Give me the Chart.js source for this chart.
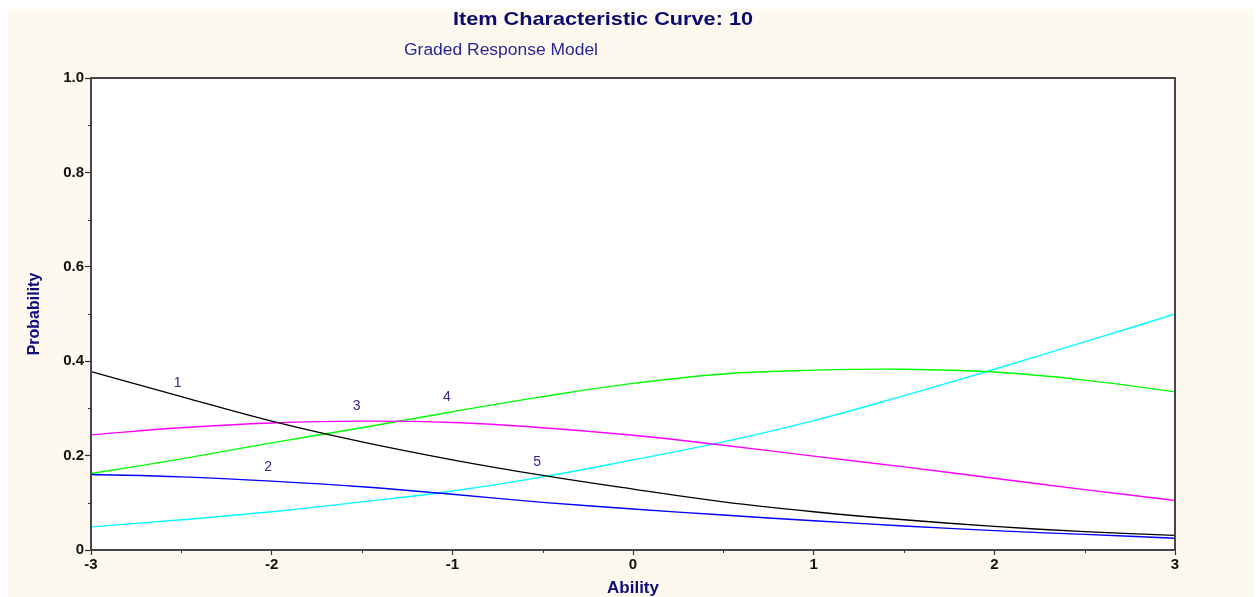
<!DOCTYPE html>
<html>
<head>
<meta charset="utf-8">
<title>Item Characteristic Curve: 10</title>
<script src="https://cdn.jsdelivr.net/npm/chart.js@4/dist/chart.umd.min.js"></script>
<style>
  html, body { margin: 0; padding: 0; background: #ffffff; }
  #wrap { width: 1256px; height: 597px; }
</style>
</head>
<body>
<div id="wrap"><canvas id="icc" width="1256" height="597"></canvas></div>
<script>
// Ability grid (theta) and category response probabilities
const abilities = [-3, -2.5, -2, -1.5, -1, -0.5, 0, 0.5, 1, 1.5, 2, 2.5, 3];
const cat1 = [0.378, 0.325, 0.273, 0.229, 0.191, 0.158, 0.129, 0.102, 0.081, 0.064, 0.050, 0.039, 0.031];
const cat2 = [0.160, 0.155, 0.146, 0.134, 0.118, 0.101, 0.087, 0.074, 0.062, 0.051, 0.041, 0.033, 0.025];
const cat3 = [0.244, 0.259, 0.269, 0.273, 0.270, 0.259, 0.243, 0.222, 0.199, 0.176, 0.152, 0.128, 0.105];
const cat4 = [0.162, 0.193, 0.227, 0.259, 0.293, 0.325, 0.353, 0.373, 0.381, 0.383, 0.377, 0.360, 0.335];
const cat5 = [0.049, 0.064, 0.081, 0.102, 0.125, 0.155, 0.191, 0.229, 0.274, 0.327, 0.383, 0.441, 0.500];
const categoryNames = ['1', '2', '3', '4', '5'];
const yTickValues = [0, 0.2, 0.4, 0.6, 0.8, 1.0];
const xTickValues = [-3, -2, -1, 0, 1, 2, 3];

// Where each category number is written (ability, probability)
const curveLabelAnchors = [
  { text: '1', x: -2.52, y: 0.354 },
  { text: '2', x: -2.02, y: 0.176 },
  { text: '3', x: -1.53, y: 0.305 },
  { text: '4', x: -1.03, y: 0.324 },
  { text: '5', x: -0.53, y: 0.186 }
];

const seriesColors = ['#000000', '#0000ff', '#ff00ff', '#00ff00', '#00ffff'];
const allSeries = [cat1, cat2, cat3, cat4, cat5];

const datasets = allSeries.map((vals, i) => ({
  label: categoryNames[i],
  data: abilities.map((a, k) => ({ x: a, y: vals[k] })),
  borderColor: seriesColors[i],
  borderWidth: 1.4,
  pointRadius: 0,
  fill: false,
  tension: 0.4
}));

const NAVY = '#0c0c7a';

// Cream panel, plot frame, minor ticks, headings and curve numbers
const decorations = {
  id: 'decorations',
  beforeDraw(chart) {
    const ctx = chart.ctx;
    ctx.save();
    ctx.fillStyle = '#ffffff';
    ctx.fillRect(0, 0, chart.width, chart.height);
    ctx.fillStyle = '#fef9ef';
    ctx.fillRect(8, 9, 1245, chart.height - 9);
    const a = chart.chartArea;
    ctx.fillStyle = '#ffffff';
    ctx.fillRect(a.left, a.top, a.right - a.left, a.bottom - a.top);
    ctx.restore();
  },
  afterDraw(chart) {
    const ctx = chart.ctx;
    const a = chart.chartArea;
    const xs = chart.scales.x, ys = chart.scales.y;
    ctx.save();
    // frame
    ctx.strokeStyle = '#474747';
    ctx.lineWidth = 2;
    ctx.strokeRect(a.left, a.top, a.right - a.left, a.bottom - a.top);
    // minor ticks
    ctx.lineWidth = 1;
    ctx.strokeStyle = '#333333';
    ctx.beginPath();
    for (let v = 0.1; v < 1; v += 0.2) {
      const py = Math.round(ys.getPixelForValue(v)) + 0.5;
      ctx.moveTo(a.left - 3, py); ctx.lineTo(a.left, py);
    }
    for (let v = -2.5; v < 3; v += 1) {
      const px = Math.round(xs.getPixelForValue(v)) + 0.5;
      ctx.moveTo(px, a.bottom); ctx.lineTo(px, a.bottom + 3);
    }
    ctx.stroke();

    // headings, stretched horizontally to their drawn widths
    const stretched = (text, font, color, cx, cy, width) => {
      ctx.font = font;
      ctx.fillStyle = color;
      ctx.textAlign = 'center';
      ctx.textBaseline = 'middle';
      const w = ctx.measureText(text).width;
      ctx.save();
      ctx.translate(cx, cy);
      ctx.scale(width / w, 1);
      ctx.fillText(text, 0, 0);
      ctx.restore();
    };
    stretched('Item Characteristic Curve: 10', 'bold 19px "Liberation Sans", Arial, sans-serif', '#0a0a70', 603, 19.5, 300);
    stretched('Graded Response Model', '16px "Liberation Sans", Arial, sans-serif', '#26269a', 501, 50.5, 194);

    // category numbers on the curves
    ctx.font = '14px "Liberation Sans", Arial, sans-serif';
    ctx.fillStyle = '#2a2a8c';
    ctx.textAlign = 'center';
    ctx.textBaseline = 'middle';
    curveLabelAnchors.forEach(l => {
      ctx.fillText(l.text, xs.getPixelForValue(l.x), ys.getPixelForValue(l.y));
    });
    ctx.restore();
  }
};

new Chart(document.getElementById('icc'), {
  type: 'line',
  data: { datasets },
  plugins: [decorations],
  options: {
    responsive: false,
    animation: false,
    devicePixelRatio: 1,
    layout: { padding: { top: 78, right: 81, left: 0, bottom: 0 } },
    plugins: {
      legend: { display: false },
      tooltip: { enabled: false },
      title: { display: false }
    },
    scales: {
      x: {
        type: 'linear',
        min: -3,
        max: 3,
        afterFit(scale) { scale.height = 47; },
        afterBuildTicks(scale) { scale.ticks = xTickValues.map(v => ({ value: v })); },
        ticks: {
          padding: 1,
          color: '#111111',
          font: { family: '"Liberation Sans", Arial, sans-serif', size: 15, weight: 'bold' },
          maxRotation: 0,
          callback: v => String(v)
        },
        grid: { display: true, drawOnChartArea: false, drawTicks: true, tickLength: 5, tickColor: '#333333', tickWidth: 1.2 },
        border: { display: true, color: '#474747', width: 2 },
        title: {
          display: true,
          text: 'Ability',
          color: NAVY,
          font: { family: '"Liberation Sans", Arial, sans-serif', size: 17, weight: 'bold', lineHeight: 1 },
          padding: { top: 0, bottom: 0 }
        }
      },
      y: {
        min: 0,
        max: 1,
        afterFit(scale) { scale.width = 91; },
        afterBuildTicks(scale) { scale.ticks = yTickValues.map(v => ({ value: v })); },
        ticks: {
          padding: 1,
          color: '#111111',
          font: { family: '"Liberation Sans", Arial, sans-serif', size: 15, weight: 'bold' },
          callback: v => (v === 0 ? '0' : v.toFixed(1))
        },
        grid: { display: true, drawOnChartArea: false, drawTicks: true, tickLength: 6, tickColor: '#333333', tickWidth: 1.2 },
        border: { display: true, color: '#474747', width: 2 },
        title: {
          display: true,
          text: 'Probability',
          color: NAVY,
          font: { family: '"Liberation Sans", Arial, sans-serif', size: 16, weight: 'bold', lineHeight: 1 },
          padding: { top: 27, bottom: 0 }
        }
      }
    }
  }
});
</script>
</body>
</html>
